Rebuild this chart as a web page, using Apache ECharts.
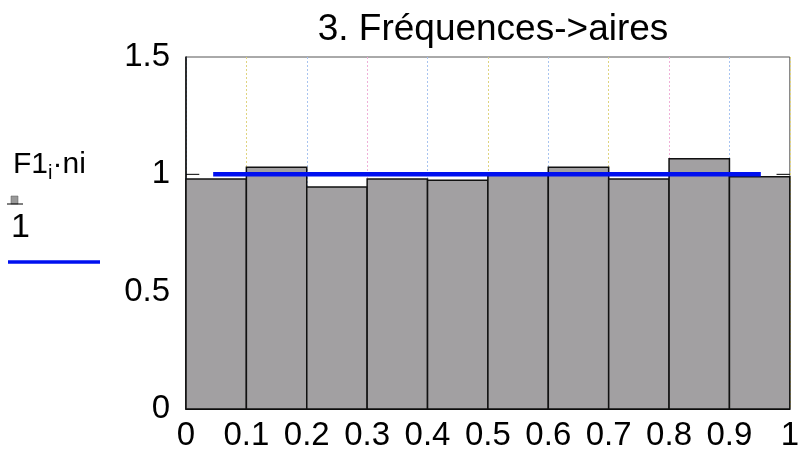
<!DOCTYPE html>
<html><head><meta charset="utf-8">
<script src="https://cdn.jsdelivr.net/npm/echarts@6/dist/echarts.min.js"></script>
<style>html,body{margin:0;padding:0;background:#fff}#c{width:802px;height:452px}</style>
</head><body><div id="c"></div>
<script>
const binStarts = [0,0.1,0.2,0.3,0.4,0.5,0.6,0.7,0.8,0.9];
const binWidth = 0.1;
const barValues = [0.98,1.03,0.946,0.98,0.975,1.007,1.03,0.98,1.066,0.99];
const refX = [0.045,0.952];
const refY = [1,1];
const xTicks = [0,0.1,0.2,0.3,0.4,0.5,0.6,0.7,0.8,0.9,1];
const yTicks = [0,0.5,1,1.5];
const titleText = '3. Fréquences->aires';

const chart = echarts.init(document.getElementById('c'));
const font = 'Liberation Sans, Arial, sans-serif';
chart.setOption({
  animation:false,
  title:{text:titleText,left:488,top:6,textAlign:'center',textStyle:{fontFamily:font,fontSize:37,fontWeight:'normal',color:'#000'}},
  grid:{left:186,right:10,top:57,bottom:41,show:true,borderColor:'#555',borderWidth:1,backgroundColor:'transparent'},
  xAxis:{type:'value',min:0,max:1,interval:0.1,
    axisLine:{show:true,lineStyle:{color:'#000',width:1}},
    axisTick:{show:false},
    axisLabel:{fontFamily:font,fontSize:33,color:'#000',margin:10,showMinLabel:true,showMaxLabel:true,
      formatter:v=>{const t=xTicks.find(x=>Math.abs(x-v)<1e-9);return t===undefined?'':String(t);}},
    splitLine:{show:true,lineStyle:{type:[2,2],width:1,color:['#a8c4f0','#e0d480','#a8c4f0','#f0b0d8','#a8c4f0','#e0d480','#a8c4f0','#e0d480','#f0b0d8','#a8c4f0','#e0d480']}}
  },
  yAxis:{type:'value',min:0,max:1.5,interval:0.5,
    axisLine:{show:true,lineStyle:{color:'#000',width:1.5}},
    axisTick:{show:false},
    axisLabel:{fontFamily:font,fontSize:33,color:'#000',margin:16,
      formatter:v=>{const t=yTicks.find(x=>Math.abs(x-v)<1e-9);return t===undefined?'':String(t);}},
    splitLine:{show:false}
  },
  series:[
    {type:'custom',
     data:binStarts.map((s,i)=>[s,s+binWidth,barValues[i]]),
     encode:{x:[0,1],y:2},
     renderItem:(params,api)=>{
       const p0=api.coord([api.value(0),0]);
       const p1=api.coord([api.value(1),api.value(2)]);
       return {type:'rect',shape:{x:p0[0],y:p1[1],width:p1[0]-p0[0],height:p0[1]-p1[1]},
         style:{fill:'#a2a0a2',stroke:'#111',lineWidth:1.5}};
     }, z:2},
    {type:'line',data:[[0,1],[0.022,1]],symbol:'none',lineStyle:{color:'#000',width:1},z:3},
    {type:'line',data:[[0.978,1],[1,1]],symbol:'none',lineStyle:{color:'#000',width:1},z:3},
    {type:'line',data:refX.map((x,i)=>[x,refY[i]]),symbol:'none',lineStyle:{color:'#0010f0',width:4.5},z:4}
  ],
  graphic:[
    {type:'text',left:13,top:150,style:{text:'{a|F1}{s|i}{a|·ni}',rich:{a:{fontFamily:font,fontSize:30,fill:'#000'},s:{fontFamily:font,fontSize:20,fill:'#000',padding:[16,0,0,0]}}}},
    {type:'rect',shape:{x:11,y:196,width:7,height:8},style:{fill:'#999',stroke:'#555',lineWidth:0.5}},
    {type:'line',shape:{x1:7,y1:204,x2:23,y2:204},style:{stroke:'#000',lineWidth:1}},
    {type:'text',left:11,top:211,style:{text:'1',fontFamily:font,fontSize:34,fill:'#000'}},
    {type:'line',shape:{x1:8,y1:262,x2:100,y2:262},style:{stroke:'#0010f0',lineWidth:3.5}}
  ]
});
</script></body></html>
